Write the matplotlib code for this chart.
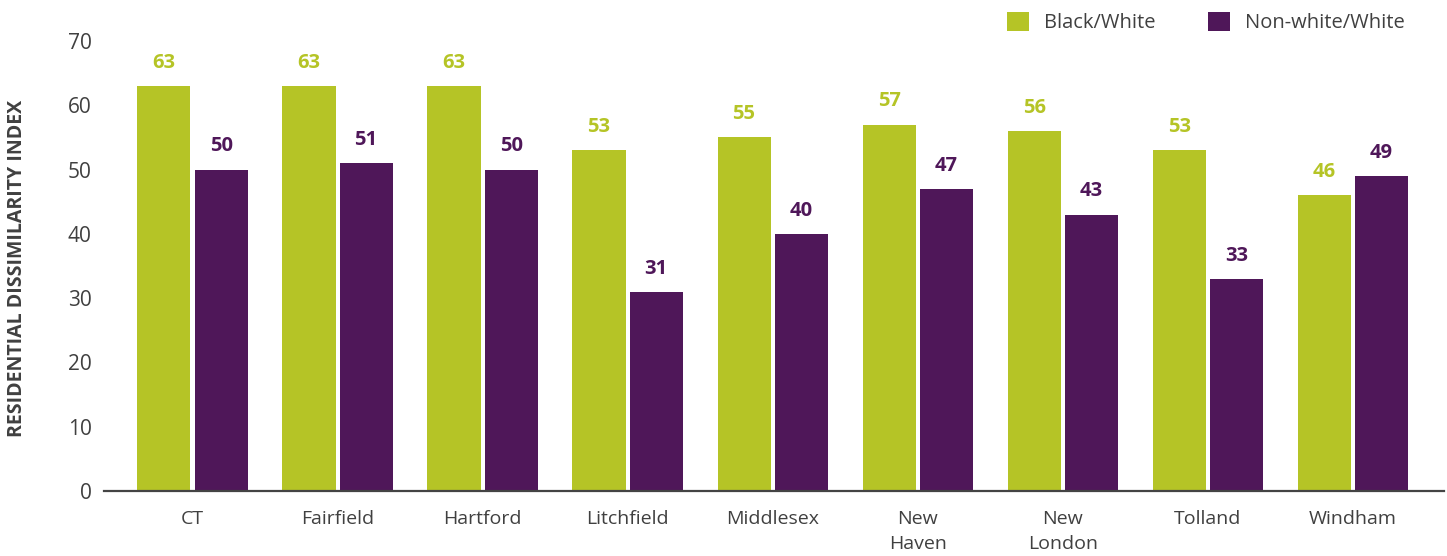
import matplotlib
matplotlib.use("Agg")
import matplotlib.pyplot as plt
import numpy as np

# County-level residential dissimilarity index values
counties = ["CT", "Fairfield", "Hartford", "Litchfield", "Middlesex",
            "New\nHaven", "New\nLondon", "Tolland", "Windham"]
black_white = [63, 63, 63, 53, 55, 57, 56, 53, 46]
nonwhite_white = [50, 51, 50, 31, 40, 47, 43, 33, 49]
series_names = ["Black/White", "Non-white/White"]
y_ticks = [0, 10, 20, 30, 40, 50, 60, 70]

GREEN = "#B5C426"
PURPLE = "#4F1759"
TEXT = "#404040"

plt.rcParams["font.family"] = ["Open Sans", "DejaVu Sans"]

fig = plt.figure(figsize=(14.47, 5.56), dpi=100)
ax = fig.add_axes([0.0719, 0.1169, 0.9261, 0.8094])

x = np.arange(len(counties))
width = 0.366
gap = 0.014
off = width / 2 + gap

b1 = ax.bar(x - off, black_white, width, color=GREEN, label=series_names[0])
b2 = ax.bar(x + off, nonwhite_white, width, color=PURPLE, label=series_names[1])

for bars, vals, col in ((b1, black_white, GREEN), (b2, nonwhite_white, PURPLE)):
    for rect, v in zip(bars, vals):
        ax.annotate(f"{v}", (rect.get_x() + rect.get_width() / 2, v),
                    xytext=(0, 9.5), textcoords="offset points",
                    ha="center", va="bottom", fontsize=14.5, fontweight="bold",
                    color=col, annotation_clip=False)

ax.set_xlim(-0.61, 8.63)
ax.set_ylim(0, 70)
ax.set_yticks(y_ticks)
ax.set_xticks(x)
ax.set_xticklabels(counties, linespacing=1.5)
ax.tick_params(axis="both", length=0, labelcolor=TEXT)
ax.tick_params(axis="x", pad=14, labelsize=14)
ax.tick_params(axis="y", pad=9, labelsize=15)

for s in ("top", "right", "left"):
    ax.spines[s].set_visible(False)
ax.spines["bottom"].set_color("#444444")
ax.spines["bottom"].set_linewidth(1.6)

fig.text(0.0115, 0.5169, "RESIDENTIAL DISSIMILARITY INDEX", rotation=90,
         ha="center", va="center", fontsize=14, fontweight="bold",
         color=TEXT)

leg = ax.legend(loc="upper right", bbox_to_anchor=(0.982, 1.008),
                bbox_transform=fig.transFigure, ncol=2, frameon=False,
                fontsize=14.5, handlelength=1.1, handleheight=1.1,
                handletextpad=0.75, columnspacing=2.6, borderpad=0.3)
for t in leg.get_texts():
    t.set_color(TEXT)

fig.savefig("out.png", dpi=100)
